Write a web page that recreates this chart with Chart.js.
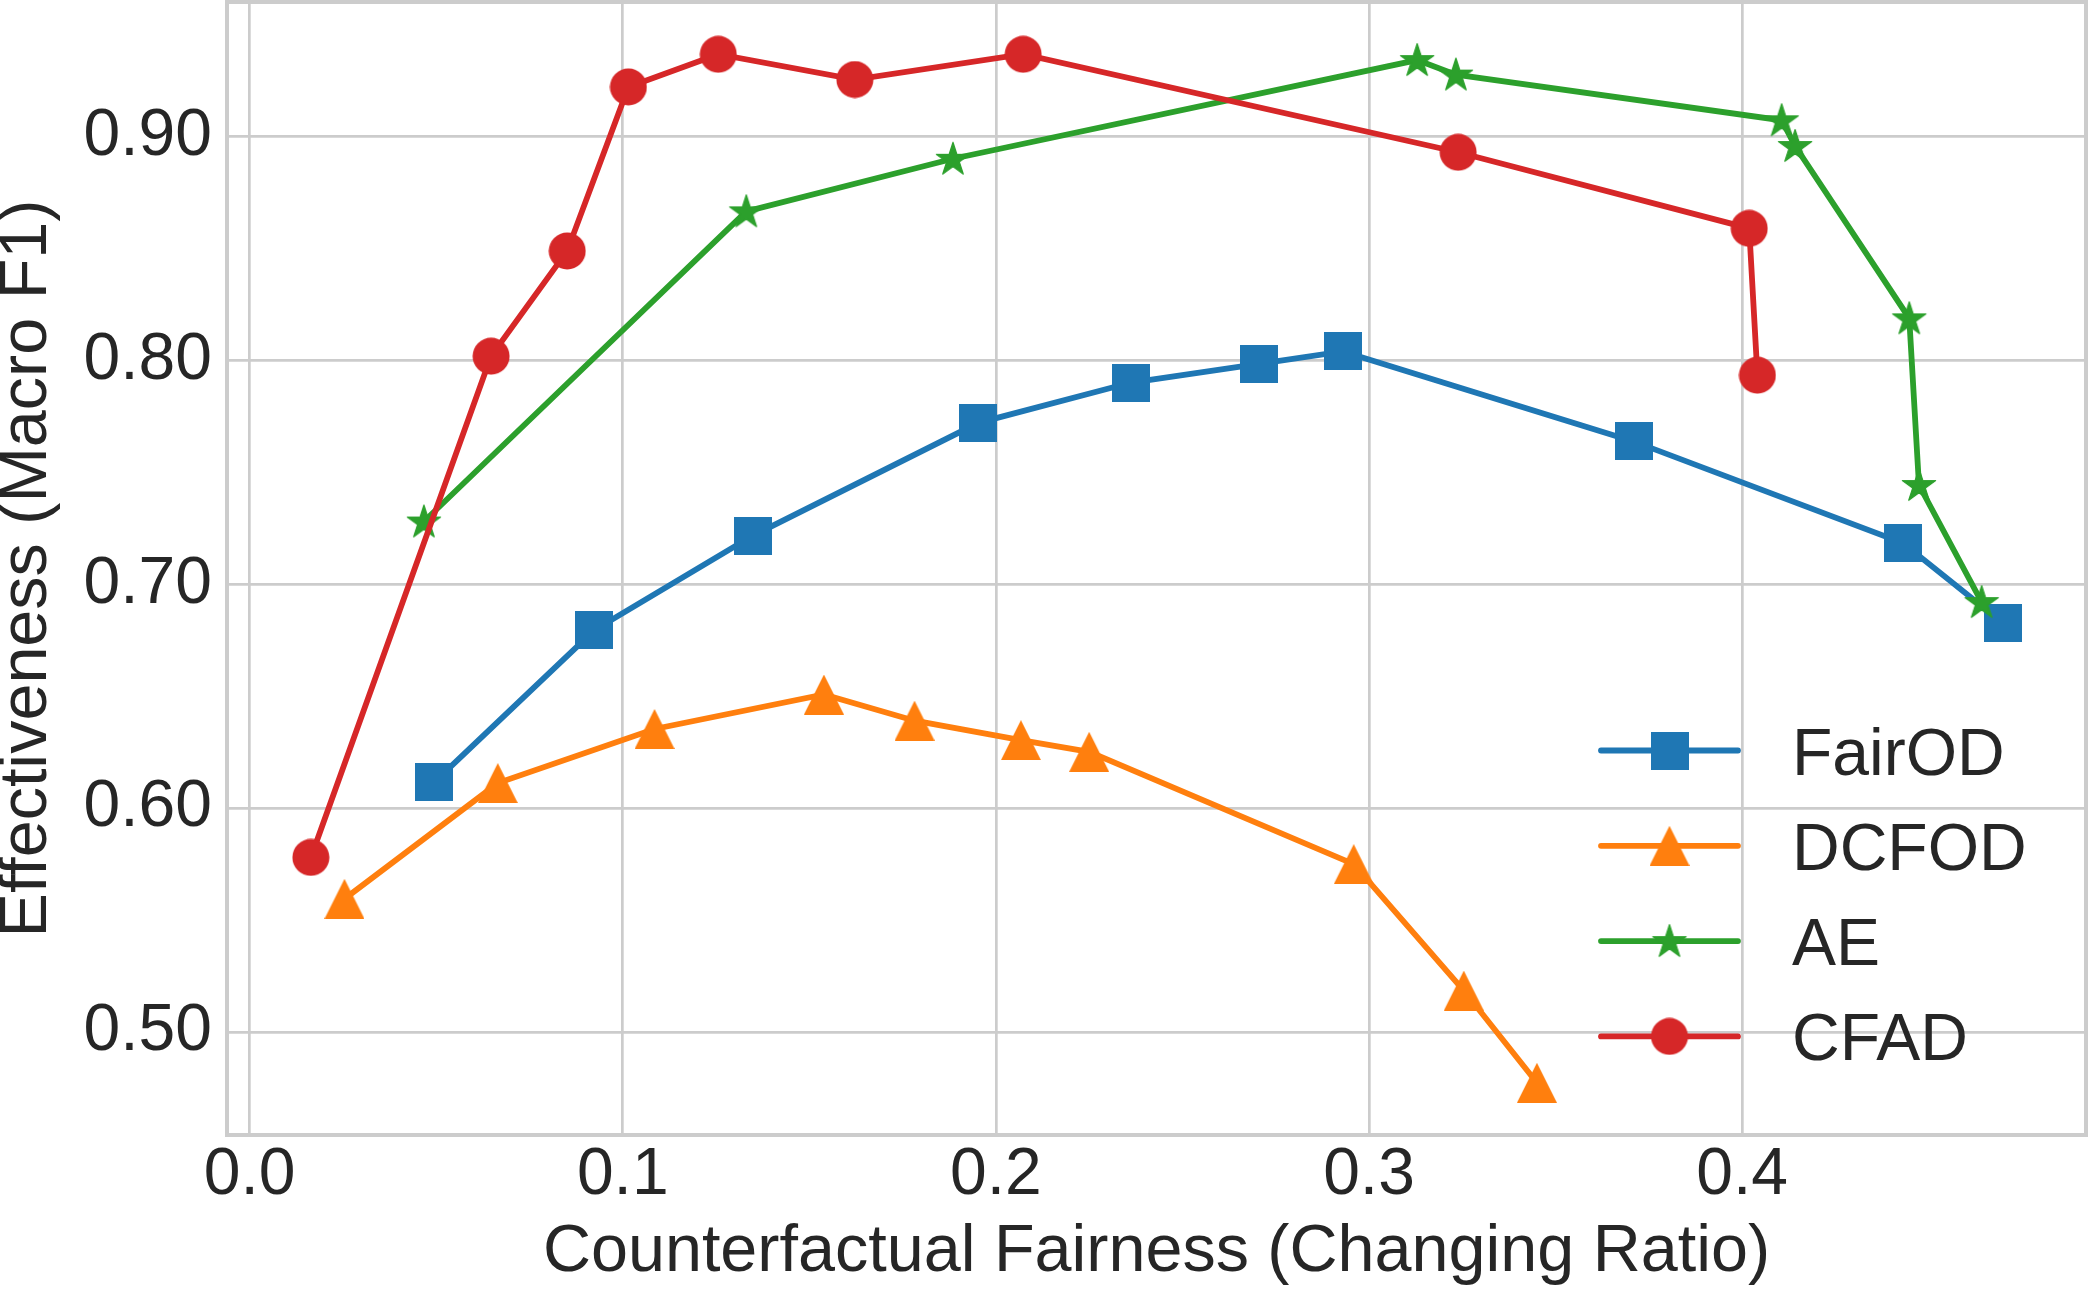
<!DOCTYPE html>
<html>
<head>
<meta charset="utf-8">
<script src="https://cdn.jsdelivr.net/npm/chart.js@4/dist/chart.umd.min.js"></script>
<style>
  html, body { margin: 0; padding: 0; background: #ffffff; }
  #wrap { width: 2089px; height: 1293px; }
</style>
</head>
<body>
<div id="wrap"><canvas id="c" width="2089" height="1293"></canvas></div>
<script>
// ---------- data ----------
const seriesNames = ['FairOD', 'DCFOD', 'AE', 'CFAD'];

const fairodX = [0.0495, 0.0924, 0.1349, 0.1953, 0.2363, 0.2705, 0.2930, 0.3709, 0.4431, 0.4698];
const fairodY = [0.6116, 0.6796, 0.7218, 0.7722, 0.7902, 0.7985, 0.8041, 0.7639, 0.7185, 0.6829];

const dcfodX = [0.0254, 0.0665, 0.1085, 0.1539, 0.1782, 0.2067, 0.2250, 0.2959, 0.3254, 0.3450];
const dcfodY = [0.5595, 0.6112, 0.6354, 0.6508, 0.6391, 0.6304, 0.6252, 0.5750, 0.5185, 0.4773];

const aeX = [0.0467, 0.1331, 0.1885, 0.3129, 0.3233, 0.4106, 0.4142, 0.4448, 0.4474, 0.4642];
const aeY = [0.7281, 0.8667, 0.8902, 0.9343, 0.9278, 0.9074, 0.8959, 0.8189, 0.7444, 0.6921];

const cfadX = [0.0164, 0.0647, 0.0851, 0.1015, 0.1256, 0.1622, 0.2073, 0.3239, 0.4019, 0.4041];
const cfadY = [0.5780, 0.8020, 0.8490, 0.9223, 0.9369, 0.9256, 0.9369, 0.8931, 0.8591, 0.7935];

const xTickValues = [0.0, 0.1, 0.2, 0.3, 0.4];
const xTickLabels = ['0.0', '0.1', '0.2', '0.3', '0.4'];
const yTickValues = [0.5, 0.6, 0.7, 0.8, 0.9];
const yTickLabels = ['0.50', '0.60', '0.70', '0.80', '0.90'];

const xTitle = 'Counterfactual Fairness (Changing Ratio)';
const yTitle = 'Effectiveness (Macro F1)';

// ---------- styling ----------
const COLORS = { FairOD: '#1f77b4', DCFOD: '#ff7f0e', AE: '#2ca02c', CFAD: '#d62728' };
const FONT = "'Liberation Sans', Arial, Helvetica, sans-serif";
const TEXT = '#262626';
const GRID = '#cccccc';
const LINE_W = 5.8;

function makeMarker(kind, color) {
  const c = document.createElement('canvas');
  const g = c.getContext('2d');
  let s;
  if (kind === 'square') {
    s = 38; c.width = c.height = s;
    g.fillStyle = color; g.fillRect(0, 0, s, s);
  } else if (kind === 'triangle') {
    s = 40; c.width = c.height = s;
    g.fillStyle = color;
    g.beginPath(); g.moveTo(s / 2, 0); g.lineTo(s, s); g.lineTo(0, s); g.closePath(); g.fill();
  } else if (kind === 'circle') {
    s = 38; c.width = c.height = s;
    g.fillStyle = color;
    g.beginPath(); g.arc(s / 2, s / 2, 18.5, 0, Math.PI * 2); g.fill();
  } else if (kind === 'star') {
    s = 38; c.width = c.height = s;
    const R = 17.5, r = R * 0.381966, cx = s / 2, cy = s / 2 + 1;
    g.fillStyle = color; g.strokeStyle = color; g.lineWidth = 1.2; g.lineJoin = 'round';
    g.beginPath();
    for (let k = 0; k < 10; k++) {
      const ang = -Math.PI / 2 + k * Math.PI / 5;
      const rad = (k % 2 === 0) ? R : r;
      const px = cx + rad * Math.cos(ang), py = cy + rad * Math.sin(ang);
      if (k === 0) g.moveTo(px, py); else g.lineTo(px, py);
    }
    g.closePath(); g.fill(); g.stroke();
  }
  return c;
}

const markers = {
  FairOD: makeMarker('square', COLORS.FairOD),
  DCFOD: makeMarker('triangle', COLORS.DCFOD),
  AE: makeMarker('star', COLORS.AE),
  CFAD: makeMarker('circle', COLORS.CFAD)
};

function pts(xs, ys) { return xs.map((x, i) => ({ x: x, y: ys[i] })); }

const seriesData = {
  FairOD: pts(fairodX, fairodY),
  DCFOD: pts(dcfodX, dcfodY),
  AE: pts(aeX, aeY),
  CFAD: pts(cfadX, cfadY)
};

const datasets = seriesNames.map((name, idx) => ({
  label: name,
  data: seriesData[name],
  showLine: true,
  borderColor: COLORS[name],
  backgroundColor: COLORS[name],
  borderWidth: LINE_W,
  pointStyle: markers[name],
  pointRadius: 18,
  pointHoverRadius: 18,
  tension: 0,
  clip: false,
  order: seriesNames.length - idx
}));

function zeroPad(s) { s.paddingTop = 0; s.paddingBottom = 0; s.paddingLeft = 0; s.paddingRight = 0; }

// frame + legend (matplotlib style)
const framePlugin = {
  id: 'frameLegend',
  afterDatasetsDraw(chart) {
    const { ctx, chartArea: a } = chart;
    ctx.save();
    ctx.strokeStyle = GRID;
    ctx.lineWidth = 4;
    ctx.strokeRect(a.left, a.top, a.right - a.left, a.bottom - a.top);

    // legend
    const lineX0 = a.right - 485, lineX1 = a.right - 348;
    const midX = (lineX0 + lineX1) / 2;
    const textX = a.right - 294;
    const row0 = a.bottom - 384.5, step = 95.3;
    ctx.font = '66px ' + FONT;
    ctx.textAlign = 'left';
    ctx.textBaseline = 'alphabetic';
    seriesNames.forEach((name, i) => {
      const y = row0 + i * step;
      ctx.strokeStyle = COLORS[name];
      ctx.lineWidth = LINE_W;
      ctx.lineCap = 'round';
      ctx.beginPath(); ctx.moveTo(lineX0, y); ctx.lineTo(lineX1, y); ctx.stroke();
      const m = markers[name];
      ctx.drawImage(m, midX - m.width / 2, y - m.height / 2);
      ctx.fillStyle = TEXT;
      ctx.fillText(name, textX, y + 24);
    });
    ctx.restore();
  }
};

new Chart(document.getElementById('c'), {
  type: 'scatter',
  data: { datasets: datasets },
  options: {
    responsive: false,
    animation: false,
    layout: { autoPadding: false, padding: { top: 2, right: 3, left: 0, bottom: 0 } },
    plugins: { legend: { display: false }, tooltip: { enabled: false } },
    scales: {
      x: {
        type: 'linear',
        position: 'bottom',
        min: -0.00608,
        max: 0.49217,
        afterBuildTicks: s => { s.ticks = xTickValues.map(v => ({ value: v })); },
        afterFit: s => { s.height = 158; zeroPad(s); },
        ticks: {
          callback: (v, i) => xTickLabels[i],
          font: { family: FONT, size: 66 },
          color: TEXT,
          padding: 1,
          maxRotation: 0,
          autoSkip: false
        },
        grid: { color: GRID, lineWidth: 2.7, drawTicks: false },
        border: { display: false },
        title: {
          display: true,
          text: xTitle,
          font: { family: FONT, size: 66.5, lineHeight: 1.2 },
          color: TEXT,
          padding: 0
        }
      },
      y: {
        type: 'linear',
        position: 'left',
        min: 0.45396,
        max: 0.96025,
        afterBuildTicks: s => { s.ticks = yTickValues.map(v => ({ value: v })); },
        afterFit: s => { s.width = 227; zeroPad(s); },
        ticks: {
          callback: (v, i) => yTickLabels[i],
          font: { family: FONT, size: 66 },
          color: TEXT,
          padding: 15,
          autoSkip: false
        },
        grid: { color: GRID, lineWidth: 2.7, drawTicks: false },
        border: { display: false },
        title: {
          display: true,
          text: yTitle,
          font: { family: FONT, size: 66.5, lineHeight: 0.82 },
          color: TEXT,
          padding: 0
        }
      }
    }
  },
  plugins: [framePlugin]
});
</script>
</body>
</html>
